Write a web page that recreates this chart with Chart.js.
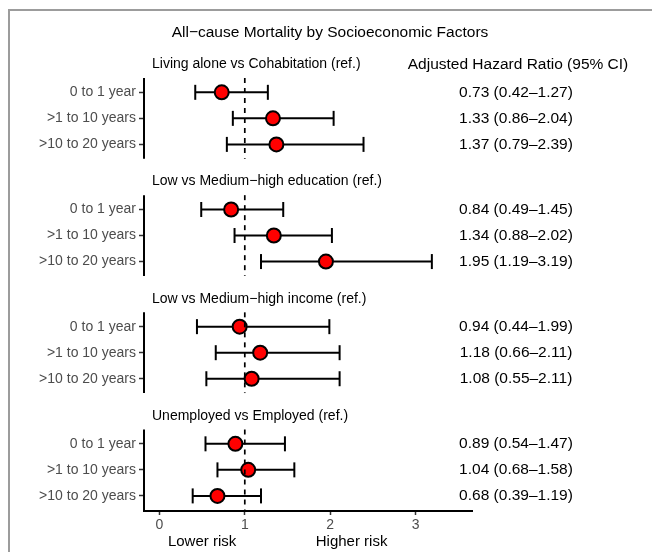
<!DOCTYPE html>
<html>
<head>
<meta charset="utf-8">
<script src="https://cdn.jsdelivr.net/npm/chart.js@4.4.1/dist/chart.umd.min.js"></script>
<style>
    body { margin: 0; background: #fff; }
    #wrap { position: relative; width: 652px; height: 552px; }
    #frame { position: absolute; left: 8px; top: 9px; right: 0; bottom: 0; border-top: 2px solid #9c9c9c; border-left: 2px solid #9c9c9c; }
    canvas { position: absolute; left: 0; top: 0; }
</style>
</head>
<body>
<div id="wrap">
    <div id="frame"></div>
    <canvas id="forest" width="652" height="552"></canvas>
</div>
<script>
// data
const groupTitles = ['Living alone vs Cohabitation (ref.)', 'Low vs Medium\u2212high education (ref.)',
                     'Low vs Medium\u2212high income (ref.)', 'Unemployed vs Employed (ref.)'];
const periods = ['0 to 1 year', '>1 to 10 years', '>10 to 20 years'];
const hr    = [0.73, 1.33, 1.37,  0.84, 1.34, 1.95,  0.94, 1.18, 1.08,  0.89, 1.04, 0.68];
const lower = [0.42, 0.86, 0.79,  0.49, 0.88, 1.19,  0.44, 0.66, 0.55,  0.54, 0.68, 0.39];
const upper = [1.27, 2.04, 2.39,  1.45, 2.02, 3.19,  1.99, 2.11, 2.11,  1.47, 1.58, 1.19];
const xTicks = [0, 1, 2, 3];
const refValue = 1;

const FONT = '"Liberation Sans", Arial, sans-serif';
const GROUP_STEP = 4.5;   // rows per panel incl. gap
const PAD = 0.55;         // panel padding above/below rows

// y position (in scale units) of row i
function rowPos(i) {
    return Math.floor(i / 3) * GROUP_STEP + (i % 3);
}
const rowValues = hr.map((v, i) => rowPos(i));
const yMax = (groupTitles.length - 1) * GROUP_STEP + 2 + 0.58;

function fmt(v) { return v.toFixed(2); }
const hrText = hr.map((v, i) => fmt(v) + ' (' + fmt(lower[i]) + '\u2013' + fmt(upper[i]) + ')');

const datasets = [];

// dashed reference line, one per panel
for (let g = 0; g < groupTitles.length; g++) {
    const top = g * GROUP_STEP - PAD;
    const bottom = g === groupTitles.length - 1 ? yMax : g * GROUP_STEP + 2 + PAD;
    datasets.push({
        type: 'line',
        data: [{x: refValue, y: top}, {x: refValue, y: bottom}],
        borderColor: '#000',
        borderWidth: 1.7,
        borderDash: [5, 5],
        pointRadius: 0,
        order: 0
    });
}

// confidence intervals with caps
for (let i = 0; i < hr.length; i++) {
    datasets.push({
        type: 'line',
        data: [{x: lower[i], y: rowValues[i]}, {x: upper[i], y: rowValues[i]}],
        borderColor: '#000',
        borderWidth: 2,
        pointStyle: 'line',
        rotation: 90,
        pointRadius: 7.5,
        pointBorderColor: '#000',
        pointBorderWidth: 2,
        order: 2
    });
}

// point estimates
datasets.push({
    type: 'scatter',
    data: hr.map((v, i) => ({x: v, y: rowValues[i]})),
    backgroundColor: '#ff0000',
    borderColor: '#000',
    borderWidth: 2,
    pointRadius: 7,
    order: 1
});

const annotations = {
    id: 'annotations',
    afterDraw(chart) {
        const ctx = chart.ctx;
        const y = chart.scales.y;
        const area = chart.chartArea;
        ctx.save();

        // left axis segments per panel
        ctx.strokeStyle = '#000';
        ctx.lineWidth = 2;
        for (let g = 0; g < groupTitles.length; g++) {
            const top = y.getPixelForValue(g * GROUP_STEP - PAD);
            const bottom = g === groupTitles.length - 1 ? area.bottom + 1 : y.getPixelForValue(g * GROUP_STEP + 2 + PAD);
            ctx.beginPath();
            ctx.moveTo(area.left, top);
            ctx.lineTo(area.left, bottom);
            ctx.stroke();
        }

        ctx.fillStyle = '#000';
        ctx.textBaseline = 'middle';

        // title
        ctx.font = '15.5px ' + FONT;
        ctx.textAlign = 'center';
        ctx.fillText('All\u2212cause Mortality by Socioeconomic Factors', 330, 33);

        // column header
        ctx.fillText('Adjusted Hazard Ratio (95% CI)', 518, y.getPixelForValue(0) - 28);

        // hazard ratio text
        for (let i = 0; i < hrText.length; i++) {
            ctx.fillText(hrText[i], 516, y.getPixelForValue(rowValues[i]));
        }

        // panel subtitles
        ctx.font = '14px ' + FONT;
        ctx.textAlign = 'left';
        for (let g = 0; g < groupTitles.length; g++) {
            ctx.fillText(groupTitles[g], area.left + 8, y.getPixelForValue(g * GROUP_STEP) - 28);
        }

        // direction labels
        const x = chart.scales.x;
        ctx.font = '15px ' + FONT;
        ctx.textAlign = 'center';
        ctx.fillText('Lower risk', x.getPixelForValue(0.5), 542);
        ctx.fillText('Higher risk', x.getPixelForValue(2.25), 542);

        ctx.restore();
    }
};

new Chart(document.getElementById('forest'), {
    data: { datasets: datasets },
    options: {
        responsive: false,
        animation: false,
        layout: { padding: { top: 78, right: 180, bottom: 0, left: 0 } },
        plugins: {
            legend: { display: false },
            tooltip: { enabled: false }
        },
        scales: {
            x: {
                type: 'linear',
                min: -0.18,
                max: 3.66,
                afterBuildTicks: scale => { scale.ticks = xTicks.map(v => ({value: v})); },
                afterFit: scale => { scale.height = 41; },
                border: { display: true, color: '#000', width: 2 },
                grid: { drawOnChartArea: false, tickLength: 4, tickColor: '#333', tickWidth: 1.5 },
                ticks: { color: '#4d4d4d', font: { family: FONT, size: 14 }, padding: 2 }
            },
            y: {
                type: 'linear',
                reverse: true,
                min: -PAD,
                max: yMax,
                afterBuildTicks: scale => { scale.ticks = rowValues.map(v => ({value: v})); },
                afterFit: scale => { scale.width = 144; },
                border: { display: false },
                grid: { drawOnChartArea: false, tickLength: 5, tickColor: '#333', tickWidth: 1.5 },
                ticks: {
                    color: '#4d4d4d',
                    font: { family: FONT, size: 14 },
                    padding: 3,
                    callback: (value, index) => periods[index % periods.length]
                }
            }
        }
    },
    plugins: [annotations]
});
</script>
</body>
</html>
